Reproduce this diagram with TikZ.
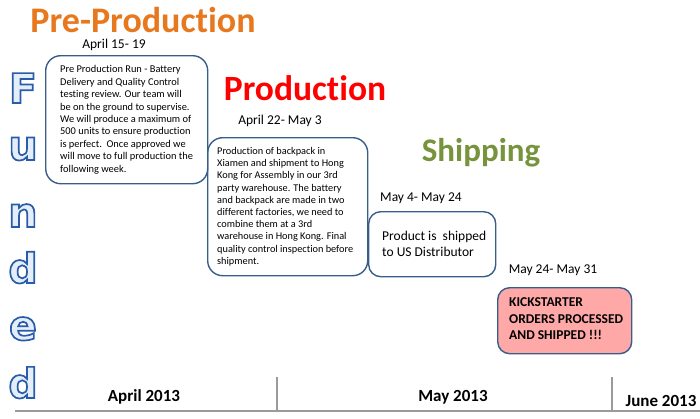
\documentclass[tikz,border=0pt]{standalone}
\usepackage{fontspec}
\setmainfont{Carlito}[Ligatures={NoCommon}]
\newfontfamily\roundfont{DejaVu Sans}
\definecolor{boxline}{HTML}{385D8A}
\definecolor{preorange}{HTML}{E8781E}
\definecolor{prodred}{HTML}{FF0000}
\definecolor{shipgreen}{HTML}{77933C}
\definecolor{kspink}{HTML}{FFA8A8}
\definecolor{funfill}{HTML}{E4EEFA}
\definecolor{axisgray}{HTML}{9A9A9A}
\usetikzlibrary{calc}
\tikzset{
  phase/.style={font=\bfseries\fontsize{35}{37}\selectfont, inner sep=0pt},
  datelbl/.style={font=\fontsize{13.5}{15}\selectfont, inner sep=0pt},
  stagebox/.style={draw=boxline, line width=1.4pt, rounded corners=15pt, anchor=north west, inner sep=0pt},
  boxtext/.style={align=left, anchor=west, inner sep=0pt},
  month/.style={font=\bfseries\fontsize{17}{19}\selectfont, inner sep=0pt},
  funletter/.style={font=\roundfont\bfseries\fontsize{41}{41}\selectfont, inner sep=0pt, anchor=base, text=funfill},
}
\newcommand{\outl}[1]{\special{pdf:literal direct 2 Tr 1.7 w 0.16 0.36 0.66 RG}#1\special{pdf:literal direct 0 Tr}}
\begin{document}
\begin{tikzpicture}[x=1pt,y=-1pt]
\useasboundingbox (0,0) rectangle (700,418);
% Funded letters
\node[funletter] (f1) at (23,103) {\outl{F}};
\node[funletter] (f2) at (23,160) {\outl{u}};
\node[funletter] (f3) at (23,227) {\outl{n}};
\node[funletter] (f4) at (23,283) {\outl{d}};
\node[funletter] (f5) at (23,340) {\outl{e}};
\node[funletter] (f6) at (23,398) {\outl{d}};
% phase titles
\node[phase, text=preorange, font=\bfseries\fontsize{36}{38}\selectfont] (pre) at (143,20) {Pre-Production};
\node[phase, text=prodred, font=\bfseries\fontsize{35.5}{38}\selectfont] (prod) at (305,88) {Production};
\node[phase, text=shipgreen, font=\bfseries\fontsize{33}{36}\selectfont] (ship) at (481,153) {Shipping};
% dates
\node[datelbl] (d1) at (114,44.5) {April 15- 19};
\node[datelbl] (d2) at (280,121) {April 22- May 3};
\node[datelbl] (d3) at (421,198) {May 4- May 24};
\node[datelbl] (d4) at (553,270) {May 24- May 31};
% boxes
\node[stagebox, minimum width=162pt, minimum height=128pt] (b1) at (45,55) {};
\node[boxtext, font=\fontsize{10.4}{12.4}\selectfont] (t1) at ([xshift=15pt]b1.west)
  {Pre Production Run - Battery\\Delivery and Quality Control\\testing review. Our team will\\be on the ground to supervise.\\We will produce a maximum of\\500 units to ensure production\\is perfect.\ \ Once approved we\\will move to full production the\\following week.};
\node[stagebox, minimum width=160pt, minimum height=138pt] (b2) at (207,137) {};
\node[boxtext, font=\fontsize{10.3}{12.2}\selectfont] (t2) at ([xshift=10pt]b2.west)
  {Production of backpack in\\Xiamen and shipment to Hong\\Kong for Assembly in our 3rd\\party warehouse. The battery\\and backpack are made in two\\different factories, we need to\\combine them at a 3rd\\warehouse in Hong Kong. Final\\quality control inspection before\\shipment.};
\node[stagebox, rounded corners=12pt, minimum width=127pt, minimum height=65pt] (b3) at (368,211) {};
\node[boxtext, font=\fontsize{13.5}{16}\selectfont] (t3) at ([xshift=14pt]b3.west)
  {Product is\ \ shipped\\to US Distributor};
\node[stagebox, rounded corners=12pt, fill=kspink, minimum width=134pt, minimum height=66pt] (b4) at (497,287) {};
\node[boxtext, font=\bfseries\fontsize{13.5}{16.5}\selectfont] (t4) at ([xshift=12pt,yshift=2pt]b4.west)
  {KICKSTARTER\\ORDERS PROCESSED\\AND SHIPPED !!!};
% axis
\coordinate (axL) at (15,411);
\coordinate (axR) at (700,411);
\coordinate (t1a) at (277,377);
\coordinate (t1b) at (277,411);
\coordinate (t2a) at (612,377);
\coordinate (t2b) at (612,411);
\draw[axisgray, line width=1.8pt] (axL) -- (axR);
\draw[axisgray, line width=1.5pt] (t1a) -- (t1b);
\draw[axisgray, line width=1.5pt] (t2a) -- (t2b);
\node[month] (m1) at (144,397) {April 2013};
\node[month] (m2) at (453,397) {May 2013};
\node[month] (m3) at (661,401) {June 2013};
\end{tikzpicture}
\end{document}
